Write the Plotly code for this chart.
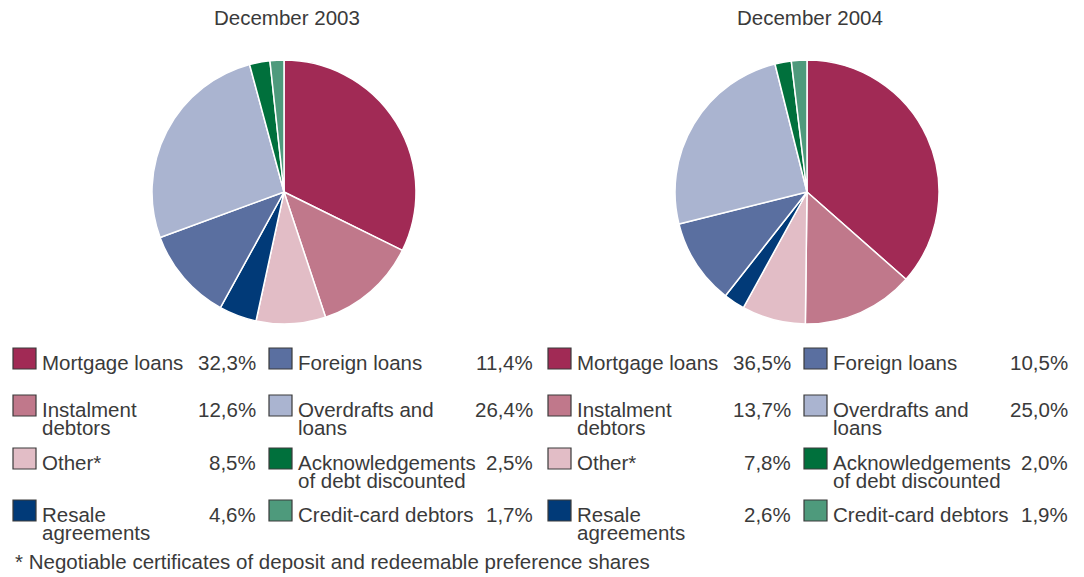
import plotly.graph_objects as go

W, H = 1084, 577

categories = ["Mortgage loans", "Instalment\ndebtors", "Other*", "Resale\nagreements",
              "Foreign loans", "Overdrafts and\nloans", "Acknowledgements\nof debt discounted",
              "Credit-card debtors"]
values_2003 = [32.3, 12.6, 8.5, 4.6, 11.4, 26.4, 2.5, 1.7]
values_2004 = [36.5, 13.7, 7.8, 2.6, 10.5, 25.0, 2.0, 1.9]
titles = ["December 2003", "December 2004"]
footnote = "* Negotiable certificates of deposit and redeemable preference shares"

colors = ["#A12A55", "#C0788B", "#E2BDC6", "#013A78", "#5A6FA0", "#AAB4D0", "#00703C", "#4E9A7C"]

FONT = "Liberation Sans, Arial, sans-serif"
TXT = "#3a3a3a"
FS = 20.5


def px(x):
    return x / W


def py(y):
    return 1 - y / H


fig = go.Figure()

pie_centers = [(284, 192), (807, 192)]
R = 132
for vals, (cx, cy) in zip([values_2003, values_2004], pie_centers):
    fig.add_trace(go.Pie(
        labels=[c.replace("\n", " ") for c in categories], values=vals,
        sort=False, direction="clockwise", rotation=0,
        marker=dict(colors=colors, line=dict(color="white", width=1.5)),
        textinfo="none", hoverinfo="label+value", showlegend=False,
        domain=dict(x=[px(cx - R), px(cx + R)], y=[py(cy + R), py(cy - R)]),
    ))

annotations = []
shapes = []
for t, (cx, cy) in zip(titles, pie_centers):
    annotations.append(dict(text=t, x=px(cx + 3), y=py(18), xref="paper", yref="paper",
                            xanchor="center", yanchor="middle", showarrow=False,
                            font=dict(family=FONT, size=20.5, color=TXT)))

row_base = [369, 416, 469, 521]
panel_shift = [0, 535]
col_box_x = [13, 269]
col_val_right = [258, 535]
for p, vals in enumerate([values_2003, values_2004]):
    for i, (cat, v) in enumerate(zip(categories, vals)):
        col, row = divmod(i, 4)
        bx = col_box_x[col] + panel_shift[p]
        base = row_base[row]
        shapes.append(dict(type="rect", xref="paper", yref="paper",
                           x0=px(bx), x1=px(bx + 23), y0=py(base), y1=py(base - 21),
                           fillcolor=colors[i], line=dict(color="#3a3a3a", width=1.2)))
        for k, line in enumerate(cat.split("\n")):
            annotations.append(dict(text=line, x=px(bx + 27), y=py(base - 7 + 18 * k),
                                    xref="paper", yref="paper", xanchor="left", yanchor="middle",
                                    showarrow=False, font=dict(family=FONT, size=FS, color=TXT)))
        annotations.append(dict(text=f"{v:.1f}%".replace(".", ","),
                                x=px(col_val_right[col] + panel_shift[p]), y=py(base - 7),
                                xref="paper", yref="paper", xanchor="right", yanchor="middle",
                                showarrow=False, font=dict(family=FONT, size=FS, color=TXT)))

annotations.append(dict(text=footnote, x=px(13), y=py(561), xref="paper", yref="paper",
                        xanchor="left", yanchor="middle", showarrow=False,
                        font=dict(family=FONT, size=20.5, color=TXT)))

fig.update_layout(width=W, height=H, margin=dict(l=0, r=0, t=0, b=0),
                  paper_bgcolor="white", plot_bgcolor="white",
                  annotations=annotations, shapes=shapes)

fig.write_html("out.html", config={"displayModeBar": False},
               post_script="document.body.style.margin='0px';document.body.style.overflow='hidden';")
